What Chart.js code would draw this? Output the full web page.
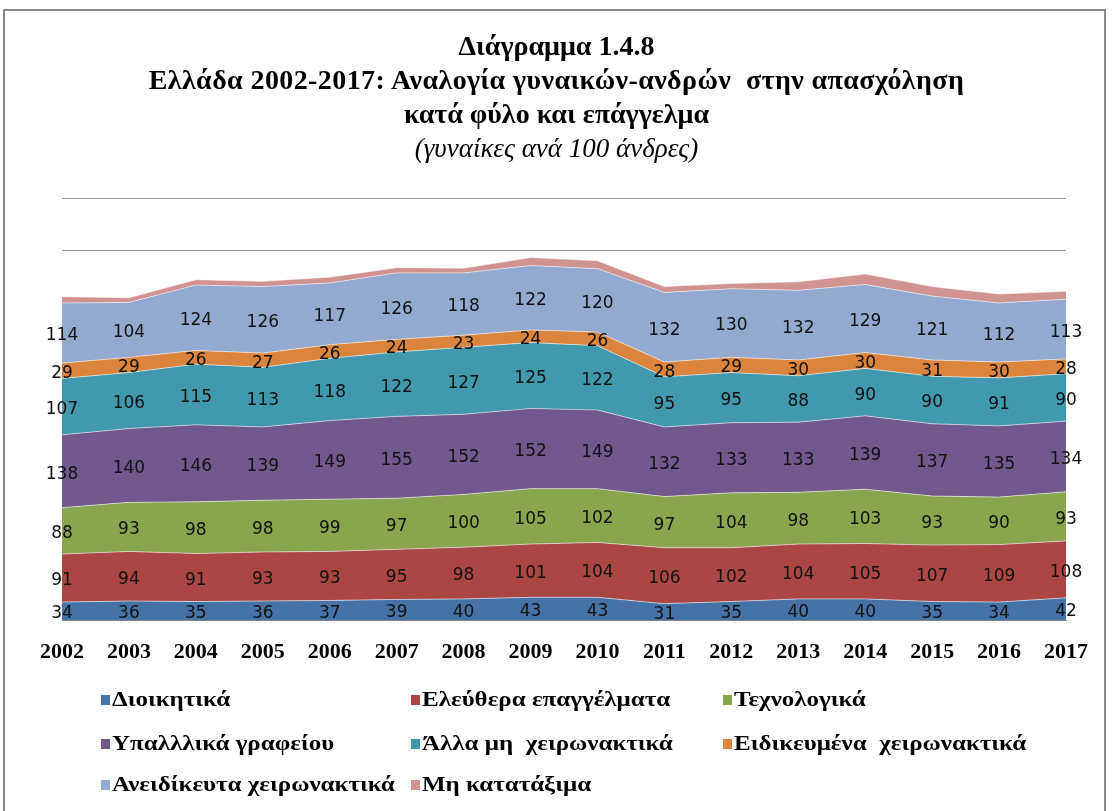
<!DOCTYPE html>
<html>
<head>
<meta charset="utf-8">
<script src="https://cdn.jsdelivr.net/npm/chart.js@4"></script>
<style>
  body { margin: 0; background: #fff; width: 1113px; height: 811px; overflow: hidden; position: relative; }
  #frame { position: absolute; left: 3px; top: 9px; width: 1103px; height: 830px; border: 2px solid #8a8a8a; box-sizing: border-box; }
  #title { position: absolute; left: 0; width: 1113px; top: 29px; text-align: center; font-family: "Liberation Serif", serif; color: #000; }
  #title div { font-size: 28px; font-weight: bold; line-height: 34px; }
  #title div.l2 { letter-spacing: 0.4px; }
  #title div.sub { font-weight: normal; font-style: italic; font-size: 27px; }
  canvas { position: absolute; left: 0; top: 0; }
  .lg { position: absolute; font-family: "Liberation Serif", serif; font-weight: bold; font-size: 20px; color: #000; white-space: nowrap; }
  .lg span.box { display: inline-block; width: 9px; height: 10px; margin-right: 2px; vertical-align: 1px; }
  .lg span.txt { display: inline-block; transform: scaleX(1.25); transform-origin: left center; }
</style>
</head>
<body>
<div id="frame"></div>
<canvas id="chart" width="1113" height="811"></canvas>
<div id="title">
  <div>Διάγραμμα 1.4.8</div>
  <div class="l2">Ελλάδα 2002-2017: Αναλογία γυναικών-ανδρών&nbsp; στην απασχόληση</div>
  <div>κατά φύλο και επάγγελμα</div>
  <div class="sub">(γυναίκες ανά 100 άνδρες)</div>
</div>
<div id="legend"></div>
<script>
const years = ['2002','2003','2004','2005','2006','2007','2008','2009','2010','2011','2012','2013','2014','2015','2016','2017'];

const seriesNames = [
  'Διοικητικά',
  'Ελεύθερα επαγγέλματα',
  'Τεχνολογικά',
  'Υπαλλλικά γραφείου',
  'Άλλα μη  χειρωνακτικά',
  'Ειδικευμένα  χειρωνακτικά',
  'Ανειδίκευτα χειρωνακτικά',
  'Μη κατατάξιμα'
];
const seriesColors = ['#4572A7','#AA4643','#89A54E','#71588F','#4198AF','#DB843D','#93A9CF','#D19392'];

const dioikitika   = [34, 36, 35, 36, 37, 39, 40, 43, 43, 31, 35, 40, 40, 35, 34, 42];
const eleythera    = [91, 94, 91, 93, 93, 95, 98, 101, 104, 106, 102, 104, 105, 107, 109, 108];
const texnologika  = [88, 93, 98, 98, 99, 97, 100, 105, 102, 97, 104, 98, 103, 93, 90, 93];
const ypallilika   = [138, 140, 146, 139, 149, 155, 152, 152, 149, 132, 133, 133, 139, 137, 135, 134];
const alla         = [107, 106, 115, 113, 118, 122, 127, 125, 122, 95, 95, 88, 90, 90, 91, 90];
const eidikevmena  = [29, 29, 26, 27, 26, 24, 23, 24, 26, 28, 29, 30, 30, 31, 30, 28];
const aneidikeyta  = [114, 104, 124, 126, 117, 126, 118, 122, 120, 132, 130, 132, 129, 121, 112, 113];
const mi_katataxima = [12, 9, 10, 10, 11, 10, 9, 15, 15, 11, 10, 16, 20, 18, 17, 15];

const allSeries = [dioikitika, eleythera, texnologika, ypallilika, alla, eidikevmena, aneidikeyta, mi_katataxima];

const datasets = allSeries.map((d, i) => ({
  label: seriesNames[i],
  data: d,
  backgroundColor: seriesColors[i],
  borderColor: 'rgba(255,255,255,0.55)',
  borderWidth: 1,
  pointRadius: 0,
  tension: 0,
  fill: i === 0 ? 'origin' : '-1'
}));

// labels in the middle of each band (not for the last one)
const bandLabels = {
  id: 'bandLabels',
  afterDatasetsDraw(chart) {
    const ctx = chart.ctx;
    const y = chart.scales.y;
    const x = chart.scales.x;
    ctx.save();
    ctx.font = '17px "DejaVu Sans", sans-serif';
    ctx.fillStyle = '#111';
    ctx.textAlign = 'center';
    ctx.textBaseline = 'middle';
    for (let j = 0; j < years.length; j++) {
      let base = 0;
      for (let i = 0; i < allSeries.length - 1; i++) {
        const v = allSeries[i][j];
        const px = x.getPixelForValue(j);
        const py = y.getPixelForValue(base + v / 2) + 3;
        ctx.fillText(String(v), px, py);
        base += v;
      }
    }
    ctx.restore();
  }
};

new Chart(document.getElementById('chart'), {
  type: 'line',
  data: { labels: years, datasets: datasets },
  options: {
    responsive: false,
    animation: false,
    layout: { padding: { left: 62, right: 47, top: 198, bottom: 141 } },
    plugins: { legend: { display: false }, tooltip: { enabled: false } },
    scales: {
      x: {
        offset: false,
        grid: { display: false },
        border: { display: true, color: '#888' },
        ticks: { color: '#000', padding: 11, maxRotation: 0, font: { family: '"Liberation Serif", serif', size: 22, weight: 'bold' } },
        afterFit(s) { s.height = 50; }
      },
      y: {
        stacked: true,
        min: 0,
        max: 800,
        ticks: { display: false, stepSize: 100 },
        grid: { color: '#9a9a9a', drawTicks: false },
        border: { display: false },
        afterFit(s) { s.width = 0; }
      }
    }
  },
  plugins: [bandLabels]
});

// legend in three columns
const legendCols = [101, 411, 723];
const legendRows = [688, 732, 773];
const legendEl = document.getElementById('legend');
seriesNames.forEach((name, i) => {
  const el = document.createElement('div');
  el.className = 'lg';
  el.style.left = legendCols[i % 3] + 'px';
  el.style.top = legendRows[Math.floor(i / 3)] + 'px';
  el.innerHTML = '<span class="box" style="background:' + seriesColors[i] + '"></span><span class="txt">' + name.replace(/  /g, '\u00a0 ') + '</span>';
  legendEl.appendChild(el);
});
</script>
</body>
</html>
